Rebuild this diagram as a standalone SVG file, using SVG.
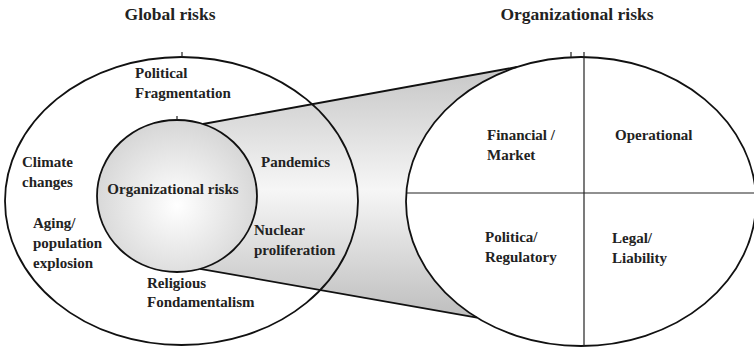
<svg xmlns="http://www.w3.org/2000/svg" width="754" height="350" viewBox="0 0 754 350">
<defs>
<linearGradient id="cone" x1="0" y1="60" x2="0" y2="320" gradientUnits="userSpaceOnUse">
<stop offset="0" stop-color="#c4c4c4"/>
<stop offset="0.5" stop-color="#f6f6f6"/>
<stop offset="1" stop-color="#bdbdbd"/>
</linearGradient>
<radialGradient id="inner" cx="177" cy="205" r="85" gradientUnits="userSpaceOnUse">
<stop offset="0" stop-color="#ffffff"/>
<stop offset="1" stop-color="#d6d6d6"/>
</radialGradient>
<style>
.ln{fill:none;stroke:#111;stroke-width:1.8}
.thin{fill:none;stroke:#222;stroke-width:1.2}
text{font-family:'Liberation Serif','DejaVu Serif',serif;font-weight:bold;fill:#222}
.t{font-size:15px}
.h{font-size:17.5px;text-anchor:middle}
</style>
</defs>
<rect width="754" height="350" fill="#fff"/>
<g id="connectors">
<path d="M203 124 L517 67 A175 144.5 0 0 0 477 317.7 L200 268.8 A80 76 0 0 0 203 124 Z" fill="url(#cone)" stroke="none"/>
<line class="ln" x1="203" y1="124" x2="517" y2="67"/>
<line class="ln" x1="200" y1="268.8" x2="477" y2="317.7"/>
</g>
<g id="global-risks">
<ellipse class="ln" cx="181.5" cy="201" rx="176.5" ry="144"/>
<line class="thin" x1="182" y1="52" x2="182" y2="57"/>
<text class="h" x="170" y="20">Global risks</text>
<text class="t" x="135" y="78">Political</text>
<text class="t" x="135" y="98">Fragmentation</text>
<text class="t" x="22" y="167">Climate</text>
<text class="t" x="22" y="187">changes</text>
<text class="t" x="261" y="167">Pandemics</text>
<text class="t" x="33" y="228">Aging/</text>
<text class="t" x="33" y="248">population</text>
<text class="t" x="33" y="268">explosion</text>
<text class="t" x="254" y="235">Nuclear</text>
<text class="t" x="254" y="255">proliferation</text>
<text class="t" x="147" y="288">Religious</text>
<text class="t" x="147" y="307">Fondamentalism</text>
</g>
<g id="inner-organizational-risks">
<ellipse cx="177" cy="196" rx="80" ry="76" fill="url(#inner)" stroke="#111" stroke-width="1.8"/>
<line class="thin" x1="177" y1="116" x2="177" y2="120"/>
<text class="t" x="173" y="194" text-anchor="middle">Organizational risks</text>
</g>
<g id="organizational-risks">
<ellipse class="ln" cx="581" cy="201.5" rx="175" ry="144.5"/>
<line class="thin" x1="584" y1="52" x2="584" y2="346"/>
<line class="thin" x1="571" y1="52" x2="571" y2="57"/>
<line class="thin" x1="407" y1="193" x2="754" y2="193"/>
<text class="h" x="577" y="20">Organizational risks</text>
<text class="t" x="487" y="140">Financial /</text>
<text class="t" x="487" y="160">Market</text>
<text class="t" x="615" y="140">Operational</text>
<text class="t" x="485" y="242">Politica/</text>
<text class="t" x="485" y="262">Regulatory</text>
<text class="t" x="612" y="243">Legal/</text>
<text class="t" x="612" y="263">Liability</text>
</g>
</svg>
